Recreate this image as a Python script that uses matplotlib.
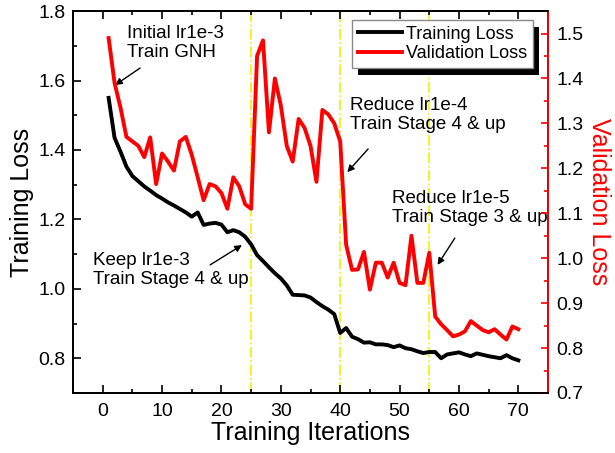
import numpy as np
import matplotlib.pyplot as plt
from matplotlib.ticker import MultipleLocator
from matplotlib.patches import Rectangle
from matplotlib.transforms import IdentityTransform

plt.rcParams['font.family'] = ['Liberation Sans', 'DejaVu Sans']

# data
iterations = np.arange(1, 71)
train_loss = [1.55, 1.435, 1.395, 1.352, 1.325, 1.31, 1.295, 1.283, 1.27, 1.26,
              1.249, 1.24, 1.23, 1.22, 1.208, 1.22, 1.184, 1.188, 1.19, 1.185,
              1.163, 1.169, 1.163, 1.15, 1.128, 1.097, 1.08, 1.062, 1.045, 1.03,
              1.01, 0.983, 0.982, 0.981, 0.975, 0.962, 0.95, 0.94, 0.927, 0.873,
              0.887, 0.862, 0.855, 0.845, 0.846, 0.84, 0.84, 0.838, 0.832, 0.837,
              0.829, 0.826, 0.82, 0.815, 0.818, 0.818, 0.80, 0.811, 0.814, 0.817,
              0.811, 0.806, 0.814, 0.81, 0.806, 0.803, 0.80, 0.809, 0.80, 0.794]
val_loss = [1.49, 1.39, 1.335, 1.27, 1.26, 1.25, 1.225, 1.269, 1.165, 1.233,
            1.215, 1.195, 1.26, 1.27, 1.23, 1.18, 1.129, 1.165, 1.16, 1.145,
            1.11, 1.18, 1.16, 1.12, 1.11, 1.45, 1.485, 1.28, 1.40, 1.34,
            1.25, 1.215, 1.31, 1.29, 1.25, 1.17, 1.33, 1.32, 1.30, 1.26,
            1.03, 0.974, 0.975, 1.014, 0.93, 0.99, 0.99, 0.957, 0.99, 0.945,
            0.94, 1.05, 0.945, 0.945, 1.012, 0.87, 0.853, 0.84, 0.826, 0.83,
            0.837, 0.86, 0.85, 0.84, 0.835, 0.842, 0.83, 0.819, 0.848, 0.842]
stage_changes = [25, 40, 55]

fig = plt.figure(figsize=(6.15, 4.53), dpi=100)
ax = fig.add_axes([0.1187, 0.1325, 0.7724, 0.843])
ax2 = ax.twinx()

l1, = ax.plot(iterations, train_loss, color='black', lw=2.8, label='Training Loss')
l2, = ax2.plot(iterations, val_loss, color='red', lw=2.8, label='Validation Loss')
for xs in stage_changes:
    ax.axvline(xs, color='#f5f000', lw=1.2, ls='-.', zorder=0)

ax.set_xlim(-5, 75)
ax.set_ylim(0.7, 1.8)
ax2.set_ylim(0.7, 1.55)

ax.xaxis.set_major_locator(MultipleLocator(10))
ax.xaxis.set_minor_locator(MultipleLocator(5))
ax.yaxis.set_major_locator(MultipleLocator(0.2))
ax.yaxis.set_minor_locator(MultipleLocator(0.1))
ax2.yaxis.set_major_locator(MultipleLocator(0.1))
ax2.yaxis.set_minor_locator(MultipleLocator(0.05))
ax.tick_params(which='both', direction='in', top=True, labelsize=14, width=1.2)
ax.tick_params(which='major', length=5.5)
ax.tick_params(which='minor', length=3)
ax.tick_params(axis='x', pad=7)
ax.tick_params(axis='y', pad=5.5)
ax2.tick_params(which='both', direction='in', labelsize=14, color='red', width=1.2, pad=6)
ax2.tick_params(which='major', length=5)
ax2.tick_params(which='minor', length=3)
ax.set_yticks(ax.get_yticks())
ax.set_yticklabels([f'{v:.1f}' for v in ax.get_yticks()])
ax.set_ylim(0.7, 1.8)

for sp in ax.spines.values():
    sp.set_linewidth(1.3)
for sp in ax2.spines.values():
    sp.set_linewidth(1.3)
ax2.spines['right'].set_color('red')

ax.set_xlabel('Training Iterations', fontsize=18, labelpad=1)
ax.set_ylabel('Training Loss', fontsize=18, labelpad=3)
ax2.set_ylabel('Validation Loss', fontsize=18, color='red', rotation=270, labelpad=20)

arrow = dict(arrowstyle='-|>', color='black', lw=1, mutation_scale=10, shrinkA=0, shrinkB=0)
txt = dict(fontsize=13.5, ha='left', va='top', linespacing=1.15)
ax.text(4.1, 1.76, 'Initial lr1e-3\nTrain GNH', **txt)
ax.annotate('', xy=(2.1, 1.587), xytext=(6.3, 1.636), arrowprops=arrow)
ax.text(-1.6, 1.106, 'Keep lr1e-3\nTrain Stage 4 & up', **txt)
ax.annotate('', xy=(23.45, 1.126), xytext=(18.1, 1.069), arrowprops=arrow)
ax.text(41.6, 1.552, 'Reduce lr1e-4\nTrain Stage 4 & up', **txt)
ax.annotate('', xy=(41.2, 1.336), xytext=(44.7, 1.403), arrowprops=arrow)
ax.text(48.7, 1.285, 'Reduce lr1e-5\nTrain Stage 3 & up', **txt)
ax.annotate('', xy=(56.4, 1.069), xytext=(59.3, 1.146), arrowprops=arrow)

leg = ax2.legend([l1, l2], ['Training Loss', 'Validation Loss'], loc='upper right',
                 bbox_to_anchor=(0.968, 0.976), borderaxespad=0, fontsize=13,
                 fancybox=False, edgecolor='#8a8a8a', framealpha=1, handlelength=2.45,
                 handletextpad=0.25, labelspacing=0.15, borderpad=0.3)
leg.get_frame().set_linewidth(1.0)

# black drop shadow under the legend box
fig.canvas.draw()
bb = leg.get_frame().get_window_extent()
ax2.add_patch(Rectangle((bb.x0 + 6, bb.y0 - 7), bb.width, bb.height, transform=IdentityTransform(),
                        facecolor='black', edgecolor='none', zorder=4.9, clip_on=False))

fig.savefig('out.png', dpi=100)
